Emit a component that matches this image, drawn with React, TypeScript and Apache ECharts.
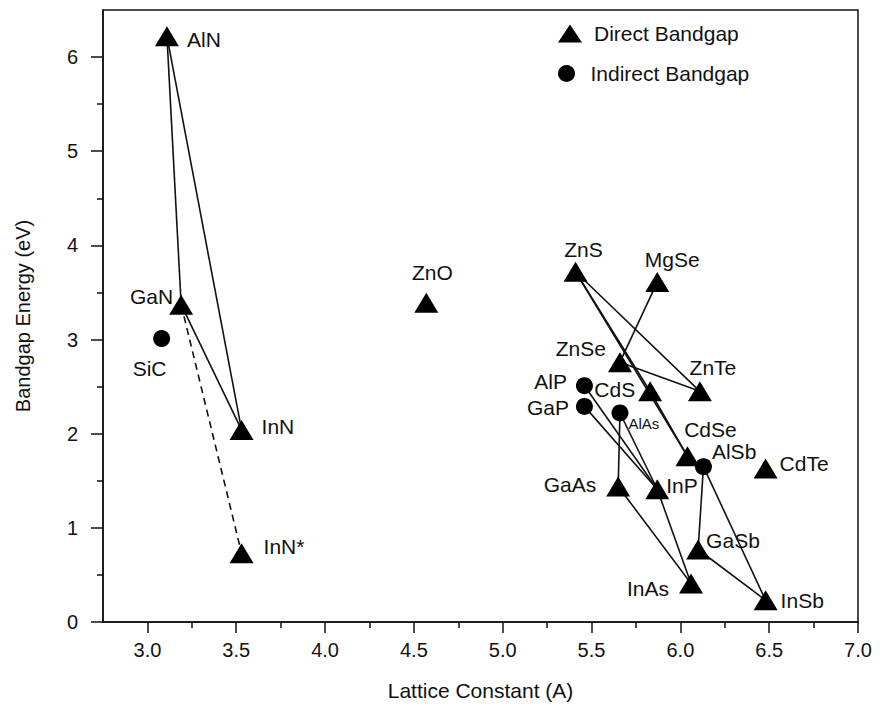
import React, { useEffect, useRef } from "react";
import * as echarts from "echarts";

// ---- data ----
const directNames = ["AlN", "GaN", "InN", "InN*", "ZnO", "ZnS", "MgSe", "ZnSe", "ZnTe", "CdS", "CdSe", "CdTe", "GaAs", "InP", "GaSb", "InAs", "InSb"];
const directLattice = [3.11, 3.19, 3.53, 3.53, 4.57, 5.41, 5.87, 5.66, 6.11, 5.83, 6.04, 6.48, 5.65, 5.87, 6.10, 6.06, 6.48];
const directGap = [6.22, 3.37, 2.04, 0.73, 3.39, 3.72, 3.61, 2.76, 2.45, 2.45, 1.76, 1.63, 1.44, 1.41, 0.77, 0.41, 0.23];

const indirectNames = ["SiC", "AlP", "GaP", "AlAs", "AlSb"];
const indirectLattice = [3.08, 5.46, 5.46, 5.66, 6.13];
const indirectGap = [3.01, 2.51, 2.29, 2.22, 1.65];

const solidLinks: [string, string][] = [
  ["AlN", "GaN"], ["AlN", "InN"], ["GaN", "InN"],
  ["ZnS", "ZnTe"], ["ZnS", "CdS"], ["ZnS", "CdSe"], ["ZnSe", "ZnTe"], ["ZnSe", "MgSe"], ["CdS", "CdSe"],
  ["AlP", "InP"], ["GaP", "InP"], ["AlAs", "InP"], ["AlAs", "GaAs"], ["GaAs", "InAs"], ["InP", "InAs"],
  ["AlSb", "GaSb"], ["AlSb", "InSb"], ["GaSb", "InSb"],
];
const dashedLinks: [string, string][] = [["GaN", "InN*"]];

const xMajorTicks = [3.0, 3.5, 4.0, 4.5, 5.0, 5.5, 6.0, 6.5, 7.0];
const xMinorTicks = [3.25, 3.75, 4.25, 4.75, 5.25, 5.75, 6.25, 6.75];
const yMajorTicks = [0, 1, 2, 3, 4, 5, 6];
const yMinorTicks = [0.5, 1.5, 2.5, 3.5, 4.5, 5.5];

// ---- layout of point labels (not data) ----
const labelLayout: Record<string, { position: string; distance: number; offset: [number, number]; fontSize?: number }> = {
  AlN: { position: "right", distance: 8, offset: [0, 3] },
  GaN: { position: "left", distance: -4, offset: [0, -8] },
  SiC: { position: "bottom", distance: 11, offset: [-12, 0] },
  InN: { position: "right", distance: 8, offset: [0, -3] },
  "InN*": { position: "right", distance: 10, offset: [0, -7] },
  ZnO: { position: "top", distance: 10, offset: [6, 0] },
  ZnS: { position: "top", distance: 2, offset: [8, 0] },
  MgSe: { position: "top", distance: 2, offset: [15, 0] },
  ZnSe: { position: "left", distance: 2, offset: [0, -14] },
  ZnTe: { position: "top", distance: 3, offset: [13, 0] },
  AlP: { position: "left", distance: 9, offset: [0, -4] },
  CdS: { position: "left", distance: 3, offset: [0, -2] },
  GaP: { position: "left", distance: 7, offset: [0, 1] },
  AlAs: { position: "right", distance: 0, offset: [0, 11], fontSize: 15 },
  CdSe: { position: "top", distance: 6, offset: [23, 0] },
  AlSb: { position: "right", distance: 0, offset: [0, -15] },
  CdTe: { position: "right", distance: 2, offset: [0, -5] },
  GaAs: { position: "left", distance: 10, offset: [0, -2] },
  InP: { position: "right", distance: -3, offset: [0, -4] },
  GaSb: { position: "right", distance: -4, offset: [0, -9] },
  InAs: { position: "left", distance: 10, offset: [0, 5] },
  InSb: { position: "right", distance: 3, offset: [0, 0] },
};

const FONT = "'Liberation Sans', Arial, Helvetica, sans-serif";
const INK = "#111111";

export default function App() {
  const ref = useRef<HTMLDivElement>(null);
  useEffect(() => {
    if (!ref.current) return;
    const chart = echarts.init(ref.current, undefined, { renderer: "svg" });

    const pos: Record<string, [number, number]> = {};
    directNames.forEach((n, i) => (pos[n] = [directLattice[i], directGap[i]]));
    indirectNames.forEach((n, i) => (pos[n] = [indirectLattice[i], indirectGap[i]]));

    const mkItem = (n: string) => {
      const l = labelLayout[n];
      return {
        name: n,
        value: pos[n],
        label: {
          show: true,
          position: l.position,
          distance: l.distance,
          offset: l.offset,
          fontSize: l.fontSize ?? 21,
        },
      };
    };

    const linkSeries = (links: [string, string][], dashed: boolean) =>
      links.map(([a, b]) => ({
        type: "line",
        data: [pos[a], pos[b]],
        symbol: "none",
        silent: true,
        z: 1,
        lineStyle: { color: INK, width: 1.6, type: dashed ? [7, 5] : "solid", opacity: 1 },
      }));

    const labelStyle = {
      show: true,
      formatter: "{b}",
      color: INK,
      fontFamily: FONT,
      fontSize: 21,
      opacity: 1,
    };

    const option: any = {
      animation: false,
      backgroundColor: "#fff",
      textStyle: { fontFamily: FONT },
      grid: {
        left: 103,
        right: 22,
        top: 10,
        bottom: 88,
        show: true,
        borderColor: INK,
        borderWidth: 1.5,
        backgroundColor: "transparent",
      },
      legend: [
        {
          data: ["Direct Bandgap"],
          left: 553,
          top: 18,
          itemWidth: 24,
          itemHeight: 18,
          symbolKeepAspect: false,
          itemStyle: { opacity: 1 },
          textStyle: { fontSize: 21, color: INK, fontFamily: FONT, padding: [0, 0, 0, 7] },
          selectedMode: false,
        },
        {
          data: ["Indirect Bandgap"],
          left: 553,
          top: 58,
          itemWidth: 24,
          itemHeight: 17,
          symbolKeepAspect: true,
          itemStyle: { opacity: 1 },
          textStyle: { fontSize: 21, color: INK, fontFamily: FONT, padding: [0, 0, 0, 7] },
          selectedMode: false,
        },
      ],
      xAxis: [
        {
          type: "value",
          min: 2.75,
          max: 7,
          position: "bottom",
          name: "Lattice Constant (A)",
          nameLocation: "middle",
          nameGap: 58,
          nameTextStyle: { fontSize: 21, color: INK, fontFamily: FONT },
          axisLine: { show: true, lineStyle: { color: INK, width: 1.5 } },
          axisTick: { show: true, customValues: xMajorTicks, length: 11, lineStyle: { color: INK, width: 1.5 } },
          axisLabel: {
            customValues: xMajorTicks,
            formatter: (v: number) => v.toFixed(1),
            fontSize: 20,
            color: INK,
            fontFamily: FONT,
            margin: 18,
          },
          splitLine: { show: false },
        },
        {
          type: "value",
          min: 2.75,
          max: 7,
          position: "bottom",
          axisLine: { show: false },
          axisTick: { show: true, customValues: xMinorTicks, length: 6, lineStyle: { color: INK, width: 1.5 } },
          axisLabel: { show: false },
          splitLine: { show: false },
        },
      ],
      yAxis: [
        {
          type: "value",
          min: 0,
          max: 6.5,
          position: "left",
          name: "Bandgap Energy (eV)",
          nameLocation: "middle",
          nameGap: 70,
          nameTextStyle: { fontSize: 20, color: INK, fontFamily: FONT },
          axisLine: { show: true, lineStyle: { color: INK, width: 1.5 } },
          axisTick: { show: true, customValues: yMajorTicks, length: 12, lineStyle: { color: INK, width: 1.5 } },
          axisLabel: {
            customValues: yMajorTicks,
            fontSize: 20,
            color: INK,
            fontFamily: FONT,
            margin: 25,
          },
          splitLine: { show: false },
        },
        {
          type: "value",
          min: 0,
          max: 6.5,
          position: "left",
          axisLine: { show: false },
          axisTick: { show: true, customValues: yMinorTicks, length: 6, lineStyle: { color: INK, width: 1.5 } },
          axisLabel: { show: false },
          splitLine: { show: false },
        },
      ],
      series: [
        ...linkSeries(solidLinks, false),
        ...linkSeries(dashedLinks, true),
        {
          name: "Direct Bandgap",
          type: "scatter",
          symbol: "triangle",
          symbolSize: [24, 20],
          itemStyle: { color: "#000", opacity: 1 },
          label: labelStyle,
          z: 3,
          data: directNames.map(mkItem),
        },
        {
          name: "Indirect Bandgap",
          type: "scatter",
          symbol: "circle",
          symbolSize: 17,
          itemStyle: { color: "#000", opacity: 1 },
          label: labelStyle,
          z: 3,
          data: indirectNames.map(mkItem),
        },
      ],
    };
    chart.setOption(option);
    return () => chart.dispose();
  }, []);
  return <div ref={ref} style={{ position: "absolute", left: 0, top: 0, width: 880, height: 710 }} />;
}
